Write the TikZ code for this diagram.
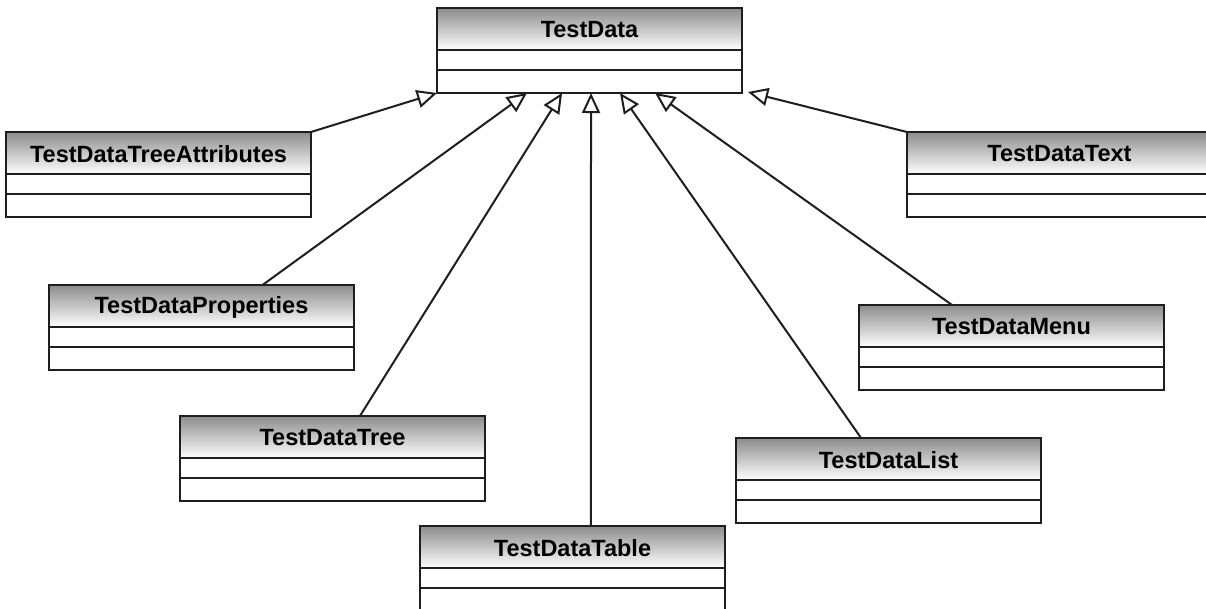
\documentclass[tikz,border=0pt]{standalone}
\usepackage{fontspec}
\setmainfont{Liberation Sans}
\usetikzlibrary{arrows.meta,calc}
\definecolor{hdrtop}{RGB}{140,140,140}
\definecolor{linecol}{RGB}{30,30,30}
\tikzset{
  classbox/.style={rectangle, fill=white, draw=none, minimum width=305pt, minimum height=85pt, inner sep=0pt, outer sep=0pt},
  classtitle/.style={font=\fontsize{23.5}{25}\selectfont\bfseries, text=black, inner sep=0pt},
  boxline/.style={draw=linecol, line width=2.2pt},
  sepline/.style={draw=linecol, line width=1.9pt},
  inherit/.style={draw=linecol, line width=2pt, -{Triangle[open, length=20pt, width=18pt, line width=2pt]}}
}
\newcommand\umlbox[4]{%
  \node[classbox, anchor=north west] (#1) at (#2,#3) {};
  \shade[top color=hdrtop, bottom color=white] (#1.north west) rectangle ([yshift=-42pt]#1.north east);
  \node[classtitle] (#1-title) at ([yshift=-22pt]#1.north) {#4};
  \draw[sepline] ([yshift=-42pt]#1.north west) -- ([yshift=-42pt]#1.north east);
  \draw[sepline] ([yshift=-62pt]#1.north west) -- ([yshift=-62pt]#1.north east);
  \draw[boxline] (#1.north west) rectangle (#1.south east);
}
\begin{document}
\begin{tikzpicture}[x=1pt, y=-1pt]
\fill[white] (0,0) rectangle (1206,608);
\useasboundingbox (0,0) rectangle (1206,608);
\umlbox{td}{437}{8}{TestData}
\umlbox{ta}{6}{132}{TestDataTreeAttributes}
\umlbox{tx}{907}{132}{TestDataText}
\umlbox{tp}{49}{285}{TestDataProperties}
\umlbox{tm}{859}{305}{TestDataMenu}
\umlbox{tt}{180}{416}{TestDataTree}
\umlbox{tl}{736}{438}{TestDataList}
\umlbox{tb}{420}{526}{TestDataTable}
% inheritance connectors
\draw[inherit] (ta.north east) -- (td.south west);
\draw[inherit] (tx.north west) -- ([xshift=6pt,yshift=1pt]td.south east);
\draw[inherit] ($(tp.north west)!0.70!(tp.north east)$) -- ($(td.south west)!0.295!(td.south east)$);
\draw[inherit] ($(tt.north west)!0.59!(tt.north east)$) -- ($(td.south west)!0.41!(td.south east)$);
\draw[inherit] ($(tb.north west)!0.56!(tb.north east)$) -- ($(td.south west)!0.505!(td.south east)$);
\draw[inherit] ($(tl.north west)!0.41!(tl.north east)$) -- ($(td.south west)!0.60!(td.south east)$);
\draw[inherit] ($(tm.north west)!0.305!(tm.north east)$) -- ($(td.south west)!0.715!(td.south east)$);
\end{tikzpicture}
\end{document}
